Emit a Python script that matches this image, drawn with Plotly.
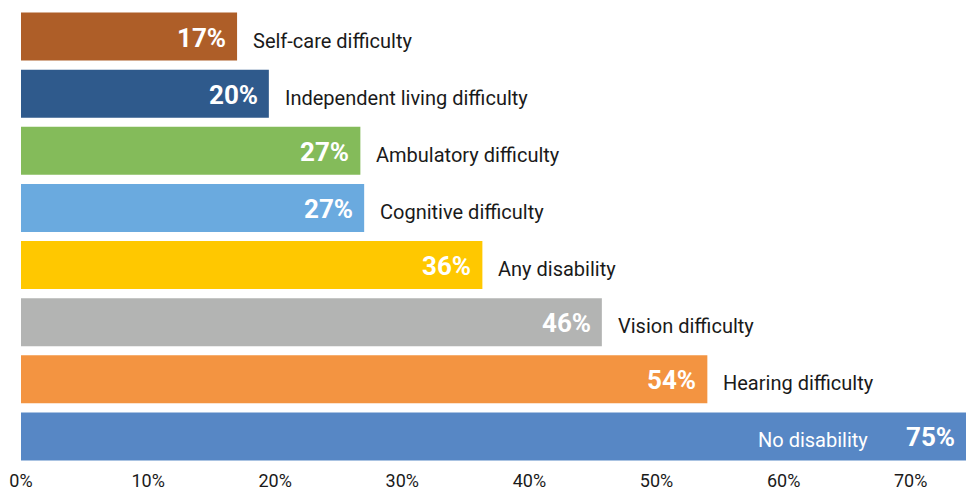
import plotly.graph_objects as go

categories = ["Self-care difficulty", "Independent living difficulty", "Ambulatory difficulty",
              "Cognitive difficulty", "Any disability", "Vision difficulty",
              "Hearing difficulty", "No disability"]
values = [17.0, 19.5, 26.7, 27.0, 36.3, 45.7, 54.0, 75.0]
value_labels = ["17%", "20%", "27%", "27%", "36%", "46%", "54%", "75%"]
colors = ["#AE5E28", "#2F5A8C", "#84BB5A", "#6AAADF", "#FFC800", "#B3B4B3", "#F39441", "#5787C5"]
tick_vals = [0, 10, 20, 30, 40, 50, 60, 70]
tick_text = ["0%", "10%", "20%", "30%", "40%", "50%", "60%", "70%"]

FONT = "Roboto, sans-serif"
XMAX = 74.35

fig = go.Figure(go.Bar(
    y=categories, x=values, orientation="h",
    marker=dict(color=colors, line=dict(width=0)),
    hoverinfo="skip",
))

annotations = []
for cat, v, lab in zip(categories, values, value_labels):
    if v <= XMAX:
        annotations.append(dict(x=v, y=cat, xref="x", yref="y", text=f"<b>{lab}</b>",
                                xanchor="right", xshift=-9, yshift=-1, showarrow=False,
                                font=dict(family=FONT, size=26, color="white")))
        annotations.append(dict(x=v, y=cat, xref="x", yref="y", text=cat,
                                xanchor="left", xshift=14, yshift=-4, showarrow=False,
                                font=dict(family=FONT, size=20, color="#1a1a1a")))
    else:
        annotations.append(dict(x=1, y=cat, xref="paper", yref="y", text=f"<b>{lab}</b>",
                                xanchor="right", xshift=-9, yshift=-1, showarrow=False,
                                font=dict(family=FONT, size=26, color="white")))
        annotations.append(dict(x=1, y=cat, xref="paper", yref="y", text=cat,
                                xanchor="right", xshift=-96, yshift=-4, showarrow=False,
                                font=dict(family=FONT, size=20, color="white")))

fig.update_layout(
    width=966, height=491,
    margin=dict(l=21, r=0, t=8, b=26),
    paper_bgcolor="white", plot_bgcolor="white",
    bargap=0.16,
    showlegend=False,
    annotations=annotations,
    xaxis=dict(range=[0, XMAX], tickvals=tick_vals, ticktext=tick_text,
               showgrid=False, zeroline=False, showline=False, automargin=False,
               ticks="", ticklabelstandoff=3,
               tickfont=dict(family=FONT, size=18, color="#1a1a1a")),
    yaxis=dict(autorange="reversed", showticklabels=False, showgrid=False,
               zeroline=False, showline=False, automargin=False),
)

fig.write_html("out.html", config={"displayModeBar": False},
               post_script="document.body.style.margin='0';document.body.style.overflow='hidden';")
